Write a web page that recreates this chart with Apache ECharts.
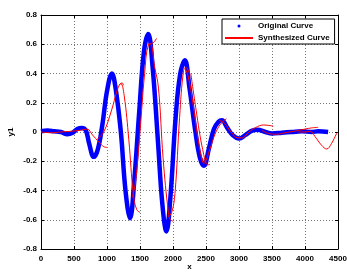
<!DOCTYPE html>
<html>
<head>
<meta charset="utf-8">
<script src="https://cdn.jsdelivr.net/npm/echarts@6/dist/echarts.min.js"></script>
<style>
  html, body { margin: 0; padding: 0; background: #fff; }
  #chart { width: 347px; height: 272px; }
</style>
</head>
<body>
<div id="chart"></div>
<script>
// original curve (dense samples, drawn as a thick blue trace)
const originalX = [0, 100, 200, 300, 400, 480, 550, 620, 680, 730, 800, 860, 930, 1000, 1075, 1130, 1210, 1280, 1350, 1410, 1490, 1560, 1625, 1690, 1770, 1840, 1900, 1960, 2040, 2110, 2180, 2250, 2340, 2410, 2470, 2540, 2620, 2690, 2740, 2820, 2900, 3000, 3100, 3200, 3280, 3400, 3500, 3650, 3800, 3950, 4100, 4200, 4350]
const originalY = [0.005, 0.01, 0.005, 0, -0.015, -0.005, 0.02, 0.027, 0.01, -0.08, -0.17, -0.12, 0.05, 0.28, 0.40, 0.30, 0, -0.40, -0.59, -0.35, 0.15, 0.55, 0.67, 0.45, -0.05, -0.50, -0.68, -0.45, 0.10, 0.40, 0.49, 0.30, 0, -0.18, -0.23, -0.12, 0.02, 0.07, 0.08, 0.03, -0.02, -0.045, -0.02, 0.01, 0.015, 0, -0.01, -0.005, 0, 0.005, 0, 0.005, 0]

// synthesized curve, pieced together from overlapping windows
const synthSeg1 = [[0, 0], [150, -0.005], [300, 0], [450, 0.005], [600, 0.012], [700, 0.02], [780, -0.02], [880, -0.07], [950, -0.1], [1000, -0.105]]
const synthSeg2 = [[850, -0.05], [950, 0], [1070, 0.15], [1150, 0.28], [1200, 0.33], [1230, 0.335], [1250, 0.32]]
const synthSeg3 = [[1180, 0.32], [1210, 0.33], [1260, 0.25], [1330, -0.05], [1400, -0.43], [1450, -0.53], [1500, -0.55]]
const synthSeg4 = [[1380, -0.45], [1430, -0.35], [1500, 0], [1570, 0.4], [1630, 0.6], [1700, 0.61], [1750, 0.64]]
const synthSeg5 = [[1620, 0.6], [1660, 0.6], [1720, 0.45], [1780, 0.3], [1850, -0.18], [1930, -0.55], [1960, -0.6], [2000, -0.61]]
const synthSeg6 = [[1930, -0.58], [1980, -0.55], [2030, -0.42], [2100, 0.1], [2160, 0.42], [2200, 0.44], [2250, 0.4]]
const synthSeg7 = [[2180, 0.44], [2230, 0.38], [2300, 0.2], [2380, -0.05], [2440, -0.19], [2470, -0.215], [2500, -0.2]]
const synthSeg8 = [[2270, 0.4], [2350, 0.15], [2450, -0.12], [2530, -0.225], [2560, -0.22]]
const synthSeg9 = [[2430, -0.17], [2480, -0.2], [2550, -0.13], [2650, 0], [2750, 0.07], [2810, 0.09]]
const synthSeg10 = [[2700, 0.08], [2780, 0.06], [2880, 0], [2980, -0.04], [3050, -0.04], [3150, 0], [3250, 0.03], [3370, 0.048], [3450, 0.045], [3520, 0.04]]
const synthSeg11 = [[3350, 0.01], [3450, -0.01], [3570, -0.015], [3700, -0.005], [3830, 0.005], [4000, 0.02], [4100, 0.028], [4200, 0.032]]
const synthSeg12 = [[3900, 0], [4000, 0], [4080, 0.005], [4150, -0.03], [4250, -0.09], [4330, -0.116], [4400, -0.08], [4480, -0.01], [4500, 0]]
const synthSegments = [synthSeg1, synthSeg2, synthSeg3, synthSeg4, synthSeg5, synthSeg6, synthSeg7, synthSeg8, synthSeg9, synthSeg10, synthSeg11, synthSeg12]

const xTicks = { min: 0, max: 4500, interval: 500 }
const yTicks = { min: -0.8, max: 0.8, interval: 0.2 }

const chart = echarts.init(document.getElementById('chart'))

const font = { fontFamily: 'Liberation Sans', fontWeight: 'bold', fontSize: 8, color: '#000' }
const dotted = { show: true, lineStyle: { color: '#777', type: [1, 2], width: 1 } }
const blackLine = { show: true, onZero: false, lineStyle: { color: '#000', width: 1 } }
const tickIn = { show: true, inside: true, length: 3, lineStyle: { color: '#000' } }

const synthSeries = synthSegments.map(seg => ({
  name: 'Synthesized Curve',
  type: 'line',
  data: seg,
  smooth: 0.4,
  symbol: 'none',
  z: 3,
  lineStyle: { color: '#ff0000', width: 1 },
  itemStyle: { color: '#ff0000' }
}))

chart.setOption({
  animation: false,
  grid: { left: 41, right: 9, top: 15, bottom: 23, containLabel: false, outerBoundsMode: 'none' },
  legend: {
    left: 222,
    top: 19,
    orient: 'vertical',
    backgroundColor: '#fff',
    borderColor: '#000',
    borderWidth: 1,
    borderRadius: 0,
    padding: [3, 5, 2, 2],
    itemWidth: 28,
    itemHeight: 3,
    itemGap: 4,
    textStyle: { ...font },
    data: [
      { name: 'Original Curve', icon: 'circle', itemStyle: { color: '#0000ff' } },
      { name: 'Synthesized Curve', itemStyle: { opacity: 0 } }
    ]
  },
  xAxis: [
    {
      type: 'value', ...xTicks,
      name: 'x', nameLocation: 'middle', nameGap: 14, nameMoveOverlap: false,
      nameTextStyle: { ...font },
      axisLine: blackLine, axisTick: tickIn, splitLine: dotted,
      axisLabel: { ...font, margin: 6, formatter: v => String(v) }
    },
    {
      type: 'value', ...xTicks, position: 'top',
      axisLine: blackLine, axisTick: tickIn, splitLine: { show: false },
      axisLabel: { show: false }
    }
  ],
  yAxis: [
    {
      type: 'value', ...yTicks,
      name: 'y1', nameLocation: 'middle', nameGap: 26, nameMoveOverlap: false,
      nameTextStyle: { ...font },
      axisLine: blackLine, axisTick: tickIn, splitLine: dotted,
      axisLabel: { ...font, margin: 4 }
    },
    {
      type: 'value', ...yTicks, position: 'right',
      axisLine: blackLine, axisTick: tickIn, splitLine: { show: false },
      axisLabel: { show: false }
    }
  ],
  series: [
    {
      name: 'Original Curve',
      type: 'line',
      data: originalX.map((x, i) => [x, originalY[i]]),
      smooth: 0.4,
      symbol: 'none',
      z: 2,
      lineStyle: { color: '#0000ff', width: 4.5 },
      itemStyle: { color: '#0000ff' }
    },
    ...synthSeries
  ]
})
</script>
</body>
</html>
